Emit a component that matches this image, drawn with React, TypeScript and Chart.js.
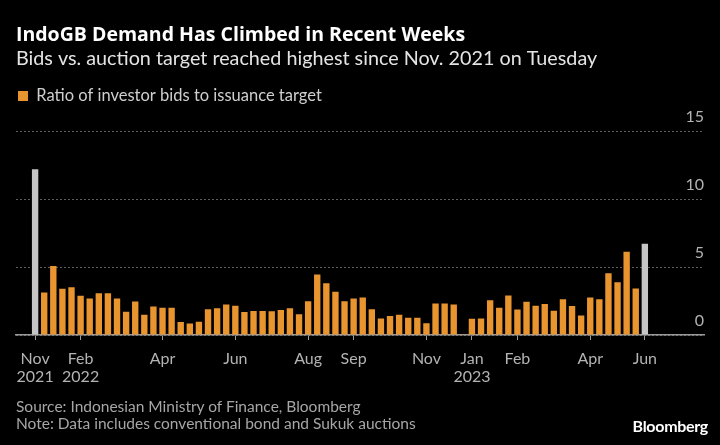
import React, { useEffect, useRef } from "react";
import { Chart, registerables } from "chart.js";

Chart.register(...registerables);

const TITLE = "IndoGB Demand Has Climbed in Recent Weeks";
const SUBTITLE = "Bids vs. auction target reached highest since Nov. 2021 on Tuesday";
const SERIES_LABEL = "Ratio of investor bids to issuance target";
const SOURCE = "Source: Indonesian Ministry of Finance, Bloomberg";
const NOTE = "Note: Data includes conventional bond and Sukuk auctions";

// Ratio of investor bids to issuance target, one value per auction (Nov 2021 -> Jun 2023)
const values = [
  12.2, 3.13, 5.07, 3.41, 3.51, 2.89, 2.69, 3.08, 3.08, 2.69,
  1.72, 2.46, 1.49, 2.09, 2.01, 2.01, 0.95, 0.85, 0.97, 1.89,
  1.97, 2.24, 2.16, 1.69, 1.77, 1.77, 1.74, 1.84, 1.97, 1.52,
  2.49, 4.45, 3.81, 3.18, 2.49, 2.69, 2.76, 1.89, 1.22, 1.39,
  1.49, 1.27, 1.27, 0.87, 2.31, 2.31, 2.24, 0.05, 1.2, 1.22,
  2.56, 2.01, 2.91, 1.87, 2.44, 2.16, 2.29, 1.79, 2.64, 2.14,
  1.44, 2.76, 2.64, 4.55, 3.88, 6.12, 3.43, 6.72,
];
const auctionIndex = values.map((_, i) => i);
const highlightIndex = [0, 67];

const tickIndex = [0, 5, 14, 22, 30, 35, 43, 48, 53, 61, 67];
const tickMonth = ["Nov", "Feb", "Apr", "Jun", "Aug", "Sep", "Nov", "Jan", "Feb", "Apr", "Jun"];
const tickYear = ["2021", "2022", "", "", "", "", "", "2023", "", "", ""];
const yTicks = [0, 5, 10, 15];

const ORANGE = "#e8952f";
const GRAY = "#c6c6c6";
const FONT = "Lato, 'Noto Sans', sans-serif";
const TITLE_FONT = "'Open Sans', 'Noto Sans', sans-serif";

export default function App() {
  const canvasRef = useRef<HTMLCanvasElement | null>(null);

  useEffect(() => {
    document.body.style.margin = "0";
    document.body.style.background = "#000";
    const canvas = canvasRef.current;
    if (!canvas) return;
    Chart.defaults.font.family = FONT;

    const chart = new Chart(canvas, {
      type: "bar",
      data: {
        datasets: [
          {
            label: SERIES_LABEL,
            data: auctionIndex.map((i) => ({ x: i, y: values[i] })),
            backgroundColor: (ctx: any) =>
              ctx.type === "data" && highlightIndex.includes(ctx.dataIndex) ? GRAY : ORANGE,
            borderWidth: 0,
            barPercentage: 0.7,
            categoryPercentage: 1,
          },
        ],
      },
      options: {
        responsive: false,
        animation: false,
        devicePixelRatio: 1,
        layout: { padding: { top: 0, left: 16, right: 16, bottom: 49 } },
        plugins: {
          tooltip: { enabled: false },
          title: {
            display: true,
            text: TITLE,
            align: "start",
            color: "#ffffff",
            font: { family: TITLE_FONT, size: 19.5, weight: "bold", lineHeight: 1.2 },
            padding: { top: 23.5, bottom: 0 },
          },
          subtitle: {
            display: true,
            text: SUBTITLE,
            align: "start",
            color: "#e4e4e4",
            font: { size: 19.75, weight: "normal", lineHeight: 1.2 },
            padding: { top: 0, bottom: 15.1 },
          },
          legend: {
            display: true,
            position: "top",
            align: "start",
            labels: {
              boxWidth: 10,
              boxHeight: 10,
              padding: 2,
              color: "#cfcfcf",
              font: { size: 16.5 },
              generateLabels: (c: any) =>
                Chart.defaults.plugins.legend.labels.generateLabels(c).map((l: any) => ({
                  ...l,
                  fillStyle: ORANGE,
                  strokeStyle: ORANGE,
                  lineWidth: 0,
                })),
            },
          },
        },
        scales: {
          x: {
            type: "linear",
            min: -2.1,
            max: 73.5,
            offset: false,
            afterBuildTicks: (s: any) => {
              s.ticks = tickIndex.map((v) => ({ value: v }));
            },
            ticks: {
              autoSkip: false,
              maxRotation: 0,
              minRotation: 0,
              padding: 10,
              color: "#b3b3b3",
              font: { size: 16, lineHeight: "18px" },
              callback: (value: any) => {
                const k = tickIndex.indexOf(Number(value));
                if (k < 0) return "";
                return tickYear[k] ? [tickMonth[k], tickYear[k]] : tickMonth[k];
              },
            },
            grid: {
              display: true,
              offset: false,
              drawOnChartArea: false,
              drawTicks: true,
              tickLength: 5,
              color: "#9a9a9a",
            },
            border: { display: true, color: "#9a9a9a", width: 1.5 },
          },
          y: {
            type: "linear",
            position: "right",
            min: 0,
            max: 16.25,
            afterBuildTicks: (s: any) => {
              s.ticks = yTicks.map((v) => ({ value: v }));
            },
            ticks: {
              mirror: true,
              padding: 0,
              labelOffset: -14,
              color: "#b3b3b3",
              font: { size: 16 },
            },
            grid: { color: "#5e5e5e", lineWidth: 1, drawTicks: false },
            border: { display: false, dash: [2, 2] },
          },
        },
      },
    } as any);

    return () => chart.destroy();
  }, []);

  return (
    <div style={{ position: "relative", width: 720, height: 445, background: "#000", overflow: "hidden" }}>
      <canvas ref={canvasRef} width={720} height={445} style={{ position: "absolute", left: 0, top: 0 }} />
      <div
        style={{
          position: "absolute",
          left: 16,
          top: 398,
          fontFamily: FONT,
          fontSize: 15.5,
          lineHeight: "17px",
          color: "#a6a6a6",
          whiteSpace: "nowrap",
        }}
      >
        <div>{SOURCE}</div>
        <div>{NOTE}</div>
      </div>
      <div
        style={{
          position: "absolute",
          right: 12,
          top: 416,
          fontFamily: FONT,
          fontSize: 16,
          fontWeight: "bold",
          lineHeight: "20px",
          color: "#ffffff",
          letterSpacing: "-0.3px",
        }}
      >
        Bloomberg
      </div>
    </div>
  );
}
